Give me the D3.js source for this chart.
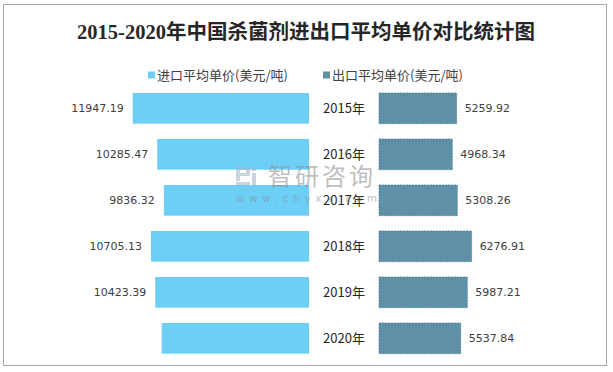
<!DOCTYPE html>
<html lang="zh">
<head>
  <meta charset="UTF-8" />
  <title>2015-2020年中国杀菌剂进出口平均单价对比统计图</title>
  <style>
    body { margin: 0; background: #fff; }
    svg { display: block; }
    .val { font-family: "DejaVu Sans", Verdana, sans-serif; font-size: 11px; fill: #404040; }
    .year { font-family: "Noto Sans CJK SC", sans-serif; font-size: 13px; fill: #262626; }
    .legend { font-family: "Noto Sans CJK SC", sans-serif; font-size: 13px; fill: #404040; }
  </style>
</head>
<body>
  <svg width="613" height="372"></svg>
  <script src="https://d3js.org/d3.v7.min.js"></script>
  <script>
    // data
    const years = ["2015年", "2016年", "2017年", "2018年", "2019年", "2020年"];
    const importPrice = [11947.19, 10285.47, 9836.32, 10705.13, 10423.39, 9980];
    const exportPrice = [5259.92, 4968.34, 5308.26, 6276.91, 5987.21, 5537.84];
    // 2020 import label is not shown in the original
    const importLabels = ["11947.19", "10285.47", "9836.32", "10705.13", "10423.39", ""];
    const exportLabels = ["5259.92", "4968.34", "5308.26", "6276.91", "5987.21", "5537.84"];
    const seriesNames = ["进口平均单价(美元/吨)", "出口平均单价(美元/吨)"];
    const colors = ["#6DCFF6", "#5E91A8"];

    const svg = d3.select("svg");

    // outer frame
    svg.append("rect")
      .attr("x", 3.5).attr("y", 4.5)
      .attr("width", 603).attr("height", 361)
      .attr("fill", "#fff")
      .attr("stroke", "#A6A6A6")
      .attr("stroke-width", 1);

    // title
    svg.append("text")
      .attr("x", 306).attr("y", 39)
      .attr("text-anchor", "middle")
      .style("font-family", "'Liberation Serif', 'Noto Sans CJK SC', serif")
      .style("font-size", "20.5px")
      .style("font-weight", "bold")
      .style("fill", "#262626")
      .text("2015-2020年中国杀菌剂进出口平均单价对比统计图");

    // legend
    const legendX = [148, 323];
    seriesNames.forEach((name, i) => {
      const g = svg.append("g").attr("transform", `translate(${legendX[i]},75)`);
      g.append("rect").attr("x", 0).attr("y", -3.5).attr("width", 7).attr("height", 7).attr("fill", colors[i]);
      g.append("text").attr("class", "legend").attr("x", 9).attr("y", 0).attr("dy", "0.36em").text(name);
    });

    const y = d3.scaleBand()
      .domain(years)
      .range([85.34, 361.34])
      .paddingInner(0.333)
      .paddingOuter(0.1665);

    const x = d3.scaleLinear().domain([0, 12000]).range([0, 177.1]);

    const leftEdge = 309;
    const rightEdge = 379;

    // import bars (to the left)
    svg.append("g").selectAll("rect")
      .data(importPrice)
      .join("rect")
      .attr("x", d => leftEdge - x(d))
      .attr("y", (d, i) => y(years[i]))
      .attr("width", d => x(d))
      .attr("height", y.bandwidth())
      .attr("fill", colors[0]);

    svg.append("g").selectAll("text")
      .data(importPrice)
      .join("text")
      .attr("class", "val")
      .attr("x", d => leftEdge - x(d) - 9)
      .attr("y", (d, i) => y(years[i]) + y.bandwidth() / 2)
      .attr("dy", "0.36em")
      .attr("text-anchor", "end")
      .text((d, i) => importLabels[i]);

    // export bars (to the right)
    svg.append("g").selectAll("rect")
      .data(exportPrice)
      .join("rect")
      .attr("x", rightEdge)
      .attr("y", (d, i) => y(years[i]))
      .attr("width", d => x(d))
      .attr("height", y.bandwidth())
      .attr("fill", colors[1])
      .attr("stroke", "#47778E")
      .attr("stroke-width", 0.7)
      .attr("stroke-dasharray", "2,1");

    svg.append("g").selectAll("text")
      .data(exportPrice)
      .join("text")
      .attr("class", "val")
      .attr("x", d => rightEdge + x(d) + 8)
      .attr("y", (d, i) => y(years[i]) + y.bandwidth() / 2)
      .attr("dy", "0.36em")
      .text((d, i) => exportLabels[i]);

    // year labels in the middle
    svg.append("g").selectAll("text")
      .data(years)
      .join("text")
      .attr("class", "year")
      .attr("x", (leftEdge + rightEdge) / 2)
      .attr("y", d => y(d) + y.bandwidth() / 2)
      .attr("dy", "0.36em")
      .attr("text-anchor", "middle")
      .text(d => d);

    // watermark
    const wm = svg.append("g").attr("opacity", 0.55);
    const icon = wm.append("g").attr("transform", "translate(236,167)").attr("fill", "#9FB0C8");
    icon.append("path").attr("d", "M0,0 H14 V9 H4 V14 H0 Z M4,3 V6 H10 V3 Z");
    icon.append("rect").attr("x", 0).attr("y", 15).attr("width", 14).attr("height", 3.5);
    icon.append("rect").attr("x", 16).attr("y", 0).attr("width", 4).attr("height", 4);
    icon.append("rect").attr("x", 16).attr("y", 6).attr("width", 4).attr("height", 12.5);
    wm.append("text")
      .attr("x", 268).attr("y", 185)
      .style("font-family", "'Noto Sans CJK SC', sans-serif")
      .style("font-size", "24px")
      .style("letter-spacing", "3px")
      .style("fill", "#8C8C8C")
      .text("智研咨询");
    wm.append("text")
      .attr("x", 236).attr("y", 202)
      .style("font-family", "'DejaVu Sans', sans-serif")
      .style("font-size", "10px")
      .style("letter-spacing", "5px")
      .style("fill", "#8C8C8C")
      .text("www.chyxx.com");
  </script>
</body>
</html>
